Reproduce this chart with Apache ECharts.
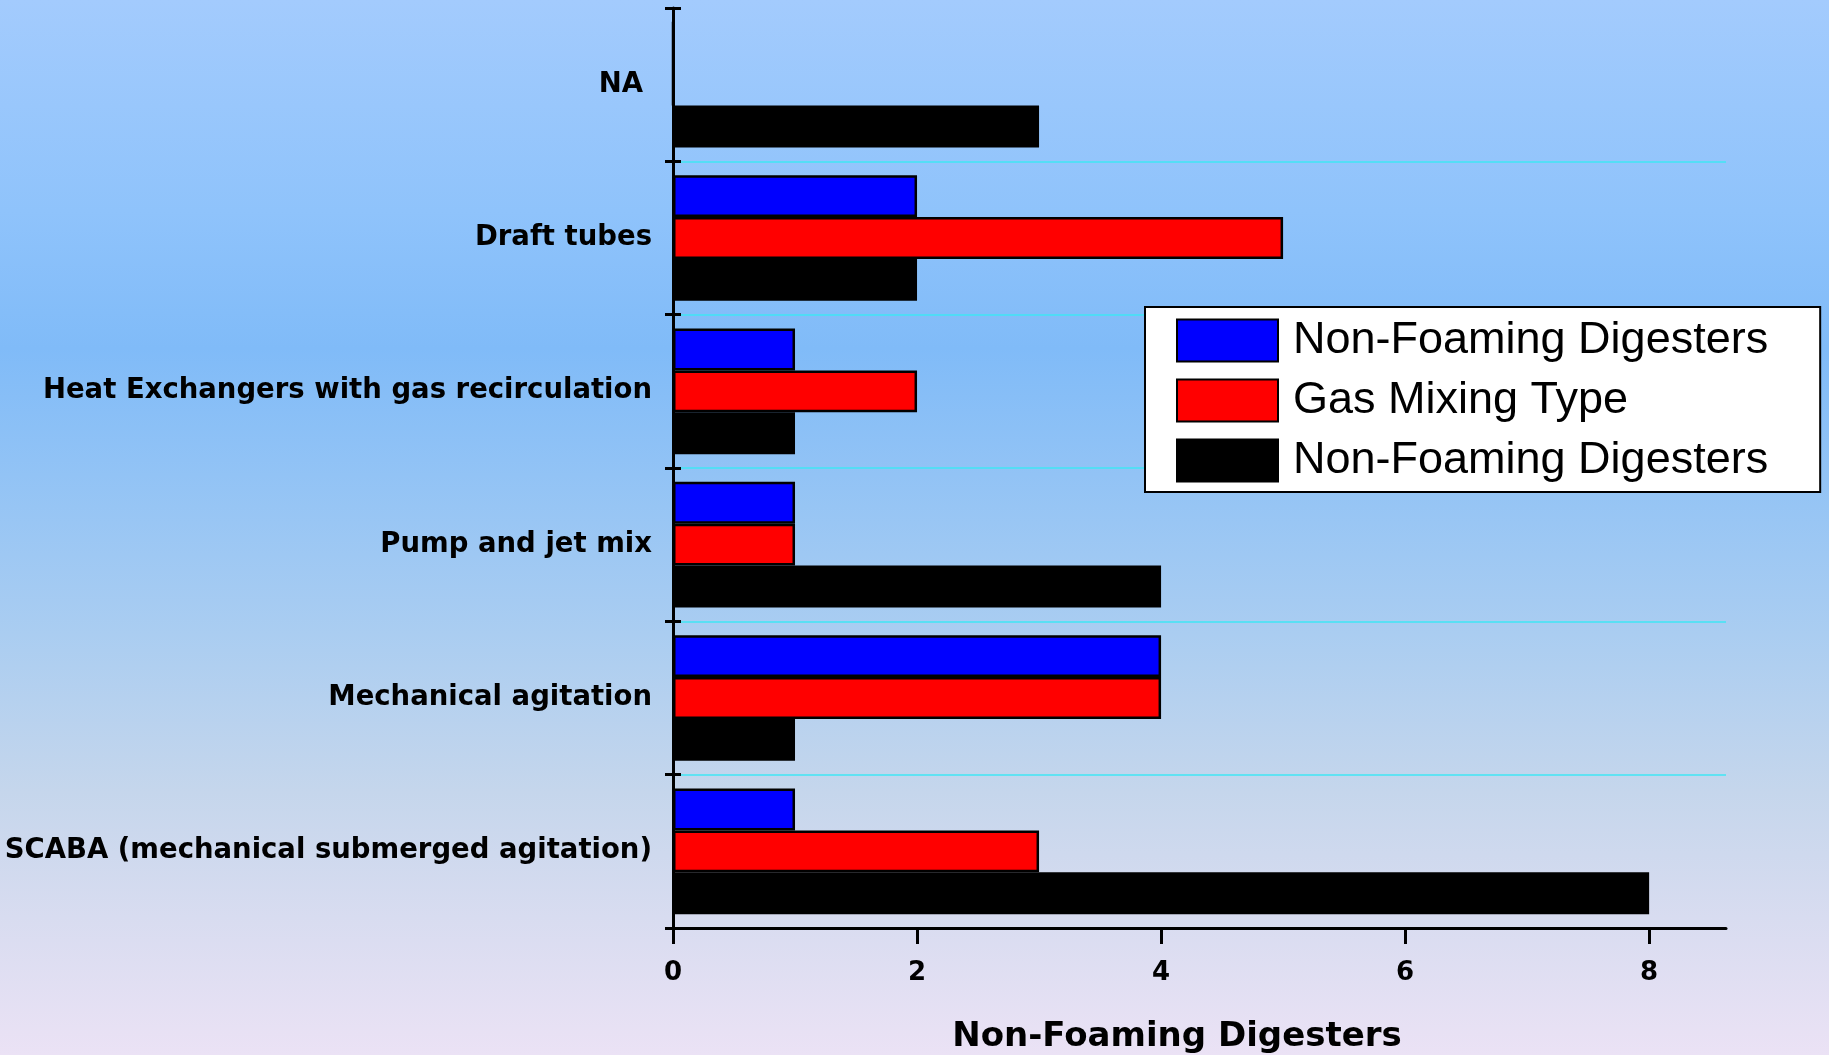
<!DOCTYPE html>
<html>
<head>
<meta charset="utf-8">
<title>Non-Foaming Digesters by mixing type</title>
<script src="https://cdn.jsdelivr.net/npm/echarts@6/dist/echarts.min.js"></script>
<style>
  html, body { margin: 0; padding: 0; width: 100%; height: 100%; overflow: hidden; }
  body {
    background: linear-gradient(to bottom,
      #a3cbfd 0%, #8fc3fb 20%, #80bbf8 33%, #92c3f5 45%,
      #aacdf1 60%, #c5d6ec 75%, #d8dcf0 87%, #ebe2f5 100%);
  }
  #chart { width: 1829px; height: 1055px; }
</style>
</head>
<body>
<div id="chart"></div>
<script>
// Mixing types, listed top to bottom
const categories = [
  'NA',
  'Draft tubes',
  'Heat Exchangers with gas recirculation',
  'Pump and jet mix',
  'Mechanical agitation',
  'SCABA (mechanical submerged agitation)'
];

// Legend labels for the three series
const seriesLabels = ['Non-Foaming Digesters', 'Gas Mixing Type', 'Non-Foaming Digesters'];
const seriesKeys = ['nonFoamingA', 'gasMixing', 'nonFoamingB'];
const seriesColors = ['#0000ff', '#ff0000', '#000000'];

// Counts per category (same order as categories)
const nonFoamingA = [0, 2, 1, 1, 4, 1];
const gasMixing   = [0, 5, 2, 1, 4, 3];
const nonFoamingB = [3, 2, 1, 4, 1, 8];

// Value-axis tick labels
const xTicks = [0, 2, 4, 6, 8];

const seriesData = [nonFoamingA, gasMixing, nonFoamingB];

const chart = echarts.init(document.getElementById('chart'), null, { renderer: 'canvas' });

const labelFont = 'DejaVu Sans';

const option = {
  backgroundColor: 'transparent',
  animation: false,
  grid: {
    left: 673, right: 103, top: 8, bottom: 127,
    containLabel: false,
    outerBoundsMode: 'none'
  },
  legend: {
    orient: 'vertical',
    left: 1145,
    top: 307,
    data: seriesKeys,
    icon: 'rect',
    itemWidth: 101,
    itemHeight: 42,
    itemGap: 15,
    padding: [11, 52, 9, 31],
    backgroundColor: '#ffffff',
    borderColor: '#000000',
    borderWidth: 2,
    formatter: function (name) {
      return seriesLabels[seriesKeys.indexOf(name)];
    },
    textStyle: {
      fontFamily: 'Liberation Sans, Arial, sans-serif',
      fontSize: 45,
      lineHeight: 42,
      color: '#000',
      padding: [0, 0, 0, 10]
    }
  },
  xAxis: {
    type: 'value',
    min: 0,
    max: 8.63,
    interval: 2,
    name: 'Non-Foaming Digesters',
    nameLocation: 'middle',
    nameGap: 92,
    nameTextStyle: {
      fontFamily: labelFont,
      fontWeight: 'bold',
      fontSize: 34,
      color: '#000',
      padding: [0, 45, 0, 0]
    },
    axisLine: { show: true, lineStyle: { color: '#000', width: 3 } },
    axisTick: {
      show: true, length: 16,
      lineStyle: { color: '#000', width: 3 },
      customValues: xTicks
    },
    axisLabel: {
      margin: 32,
      fontFamily: labelFont,
      fontWeight: 'bold',
      fontSize: 26,
      color: '#000',
      customValues: xTicks
    },
    splitLine: { show: false }
  },
  yAxis: [
    {
      type: 'category',
      inverse: true,
      position: 'left',
      data: categories,
      axisLine: { show: true, lineStyle: { color: '#000', width: 3 } },
      axisTick: { show: true, length: 8, lineStyle: { color: '#000', width: 3 } },
      axisLabel: {
        margin: 21,
        fontFamily: labelFont,
        fontWeight: 'bold',
        fontSize: 27.5,
        color: '#000',
        formatter: function (v) { return v === 'NA' ? '{na|' + v + '}' : v; },
        rich: {
          na: {
            fontFamily: labelFont, fontWeight: 'bold', fontSize: 27.5, color: '#000',
            padding: [0, 9, 0, 0]
          }
        }
      },
      splitLine: {
        show: true,
        showMinLine: false,
        showMaxLine: false,
        lineStyle: { color: '#3fe6f4', width: 1.5 }
      }
    },
    {
      // inner half of the category ticks
      type: 'category',
      inverse: true,
      position: 'left',
      offset: 0,
      data: categories,
      axisLine: { show: false },
      axisTick: { show: true, inside: true, length: 8, lineStyle: { color: '#000', width: 3 } },
      axisLabel: { show: false },
      splitLine: { show: false }
    }
  ],
  series: seriesKeys.map(function (key, i) {
    return {
      name: key,
      type: 'bar',
      yAxisIndex: 0,
      barGap: '0%',
      barCategoryGap: '18%',
      data: seriesData[i],
      itemStyle: {
        color: seriesColors[i],
        borderColor: '#000',
        borderWidth: 2.5
      }
    };
  })
};

chart.setOption(option);
</script>
</body>
</html>
